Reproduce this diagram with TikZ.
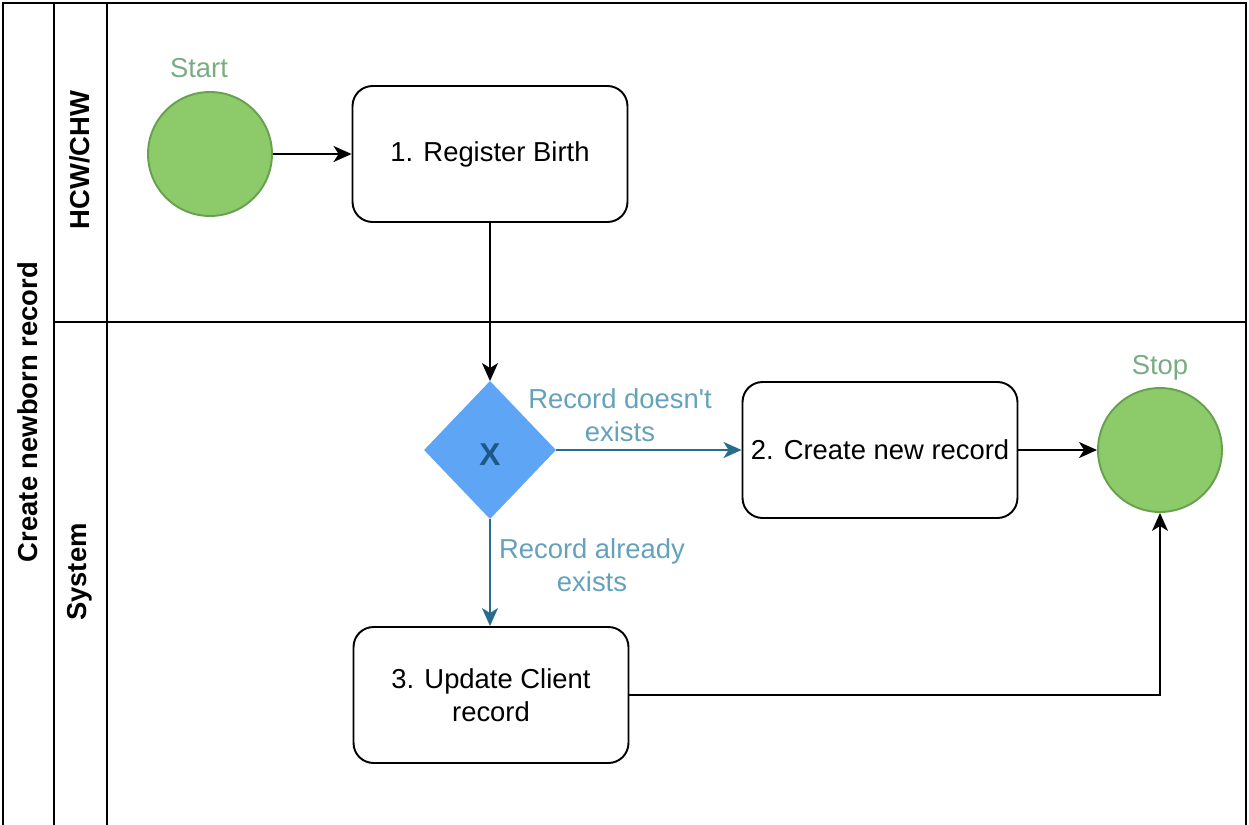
\documentclass[tikz,border=0pt]{standalone}
\usepackage{fontspec}
\setmainfont{Liberation Sans}
\usetikzlibrary{shapes}
\usetikzlibrary{arrows.meta}

\definecolor{evfill}{RGB}{141,203,106}
\definecolor{evline}{RGB}{104,160,80}
\definecolor{evtext}{RGB}{122,172,132}
\definecolor{gwfill}{RGB}{95,165,245}
\definecolor{gwtext}{RGB}{30,88,138}
\definecolor{flowteal}{RGB}{40,108,140}
\definecolor{flowtext}{RGB}{100,162,188}

\begin{document}
\begin{tikzpicture}[x=0.02cm,y=-0.02cm,line width=1.1pt,
	every node/.style={font=\fontsize{15.6}{18.5}\selectfont},
	event/.style={circle,draw=evline,fill=evfill,minimum size=2.48cm,inner sep=0pt},
	task/.style={rectangle,rounded corners=0.4cm,draw,minimum width=5.5cm,minimum height=2.72cm,align=center},
	gateway/.style={diamond,draw=gwfill,fill=gwfill,minimum width=2.6cm,minimum height=2.72cm,inner sep=0pt,aspect=1},
	flow/.style={-{Stealth[length=0.36cm,width=0.32cm,inset=0.1cm]},draw=black},
	cond/.style={-{Stealth[length=0.36cm,width=0.32cm,inset=0.1cm]},draw=flowteal},
	condlabel/.style={text=flowtext,align=center},
	lanelabel/.style={rotate=90,font=\fontsize{15.6}{18.5}\selectfont\bfseries}
	]
	\useasboundingbox (0,0) rectangle (1249,825);
	% pool and lanes
	\draw (3,825) -- (3,3) -- (1246,3) -- (1246,825);
	\draw (54,3) -- (54,825);
	\draw (107,3) -- (107,825);
	\draw (54,322) -- (1246,322);
	\node[lanelabel] (pool) at (28,412) {Create newborn record};
	\node[lanelabel] (hcw) at (80,160) {HCW/CHW};
	\node[lanelabel] (sys) at (80,572) {System};
	% shapes
	\node[event] (start) at (210,154) {};
	\node[text=evtext] (startlbl) at (199,68) {Start};
	\node[task] (reg) at (490,154) {1. Register Birth};
	\node[gateway] (gw) at (490,450) {};
	\node[text=gwtext,font=\fontsize{18}{20}\selectfont\bfseries] (gwx) at (490,455) {X};
	\node[task] (create) at (880,450) {2. Create new record};
	\node[task] (update) at (491,695) {3. Update Client\\record};
	\node[event] (stop) at (1160,450) {};
	\node[text=evtext] (stoplbl) at (1160,368) {Stop};
	% flows
	\draw[flow] (start) -- (reg);
	\draw[flow] (reg.south) -- (gw.north);
	\draw[cond] (gw.east) -- (create.west);
	\draw[cond] (gw.south) -- (gw.south |- update.north);
	\draw[flow] (create) -- (stop);
	\draw[flow] (update.east) -| (stop.south);
	\node[condlabel] (nolbl) at (620,415) {Record doesn\textquotesingle t\\exists};
	\node[condlabel] (yeslbl) at (592,565) {Record already\\exists};
\end{tikzpicture}
\end{document}
